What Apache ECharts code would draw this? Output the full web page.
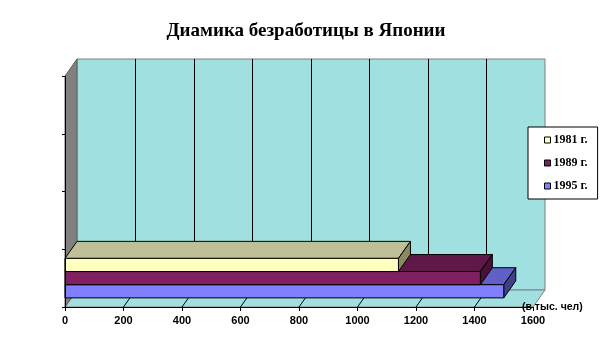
<!DOCTYPE html>
<html><head><meta charset="utf-8">
<script src="https://cdn.jsdelivr.net/npm/echarts@6/dist/echarts.min.js"></script>
<style>html,body{margin:0;padding:0;background:#fff}#c{width:612px;height:356px}</style>
</head><body><div id="c"></div>
<script>
// ---- data ----
const categories = ['c1', 'c2', 'c3', 'c4'];
const years = ['1981 г.', '1989 г.', '1995 г.'];
const values = [1140, 1420, 1500];
const xMin = 0, xMax = 1600, xStep = 200;
const titleText = 'Диамика безработицы в Японии';
const unitText = '(в тыс. чел)';

// ---- styles ----
const frontColors = ['#FFFFC0', '#802060', '#8080FF'];
const topColors = ['#C0C098', '#601848', '#6060C8'];
const sideColors = ['#8A8A60', '#4A1035', '#404088'];
const wallColor = '#A0E0E0';
const DX = 12, DY = -17;

const chart = echarts.init(document.getElementById('c'));

function barRender(i) {
  return function (params, api) {
    const end = api.coord([api.value(0), api.value(1)]);
    const start = api.coord([0, api.value(1)]);
    const band = api.size([0, 1])[1];
    const h = band * 0.228;
    const y0 = end[1] - 1.5 * h + i * h;
    const y1 = y0 + h;
    const x0 = start[0], x1 = end[0];
    const st = { stroke: '#000', lineWidth: 1 };
    return {
      type: 'group', children: [
        { type: 'polygon', shape: { points: [[x0, y0], [x1, y0], [x1 + DX, y0 + DY], [x0 + DX, y0 + DY]] }, style: Object.assign({ fill: topColors[i] }, st) },
        { type: 'polygon', shape: { points: [[x1, y0], [x1, y1], [x1 + DX, y1 + DY], [x1 + DX, y0 + DY]] }, style: Object.assign({ fill: sideColors[i] }, st) },
        { type: 'rect', shape: { x: x0, y: y0, width: x1 - x0, height: h }, style: Object.assign({ fill: frontColors[i] }, st) }
      ]
    };
  };
}

const ticks = [];
for (let v = xMin; v <= xMax; v += xStep) ticks.push(v);

const series = [{
  type: 'custom', name: 'walls', xAxisIndex: 0, yAxisIndex: 0, z: 1, silent: true,
  data: [[0, 0]],
  renderItem: function (params, api) {
    const cs = params.coordSys;
    const L = cs.x, T = cs.y, R = cs.x + cs.width, B = cs.y + cs.height;
    const ch = [
      { type: 'polygon', shape: { points: [[L, B], [R, B], [R + DX, B + DY], [L + DX, B + DY]] }, style: { fill: wallColor, stroke: '#808080', lineWidth: 1 } },
      { type: 'polygon', shape: { points: [[L, T], [L, B], [L + DX, B + DY], [L + DX, T + DY]] }, style: { fill: '#808080', stroke: '#606060', lineWidth: 1 } }
    ];
    ticks.forEach(function (v) {
      if (v === xMin || v === xMax) return;
      const x = api.coord([v, 0])[0];
      ch.push({ type: 'line', shape: { x1: x, y1: B, x2: x + DX, y2: B + DY }, style: { stroke: '#000', lineWidth: 1 } });
    });
    return { type: 'group', children: ch };
  }
}];
// draw lower bars first so upper ones sit on top
for (let i = years.length - 1; i >= 0; i--) {
  series.push({
    type: 'custom', name: years[i], xAxisIndex: 0, yAxisIndex: 0, z: 5 + (years.length - i),
    itemStyle: { color: frontColors[i], borderColor: '#000', borderWidth: 1 },
    data: [[values[i], 0]],
    encode: { x: 0, y: 1 },
    renderItem: barRender(i)
  });
}

chart.setOption({
  animation: false,
  title: [
    { text: titleText, left: 'center', top: 22, padding: 0, textStyle: { fontFamily: 'Liberation Serif', fontWeight: 'bold', fontSize: 19, color: '#000' } },
    { text: unitText, left: 522, top: 302, padding: 0, textStyle: { fontFamily: 'Liberation Sans', fontWeight: 'bold', fontSize: 10.5, color: '#000' } }
  ],
  legend: {
    data: years, orient: 'vertical', left: 528, top: 127,
    padding: [7, 10, 7, 16], itemGap: 11, itemWidth: 6, itemHeight: 6, icon: 'rect',
    backgroundColor: '#fff', borderColor: '#000', borderWidth: 1,
    itemStyle: { borderColor: '#000', borderWidth: 1 },
    textStyle: { fontFamily: 'Liberation Serif', fontWeight: 'bold', fontSize: 12, color: '#000', padding: [0, 0, 0, -2] }
  },
  grid: [
    { left: 65, right: 79, top: 76, bottom: 49 },
    { left: 77, right: 67, top: 59, bottom: 66, show: true, backgroundColor: wallColor, borderColor: '#808080', borderWidth: 1, z: 0 }
  ],
  xAxis: [
    { gridIndex: 0, type: 'value', min: xMin, max: xMax, interval: xStep, z: 10,
      axisLine: { show: true, lineStyle: { color: '#000', width: 1 } },
      axisTick: { show: true, length: 4, lineStyle: { color: '#000' } },
      axisLabel: { color: '#000', fontFamily: 'Liberation Sans', fontWeight: 'bold', fontSize: 11, margin: 8, formatter: function (v) { return String(v); } },
      splitLine: { show: false } },
    { gridIndex: 1, type: 'value', min: xMin, max: xMax, interval: xStep,
      axisLine: { show: false }, axisTick: { show: false }, axisLabel: { show: false },
      splitLine: { show: true, showMinLine: false, showMaxLine: false, lineStyle: { color: '#000', width: 1 } } }
  ],
  yAxis: [
    { gridIndex: 0, type: 'category', data: categories, z: 10,
      axisLine: { show: true, lineStyle: { color: '#000', width: 1 } },
      axisTick: { show: true, length: 3, lineStyle: { color: '#000' } },
      axisLabel: { show: false }, splitLine: { show: false } },
    { gridIndex: 1, type: 'category', data: categories, show: false }
  ],
  series: series
});
</script>
</body></html>
